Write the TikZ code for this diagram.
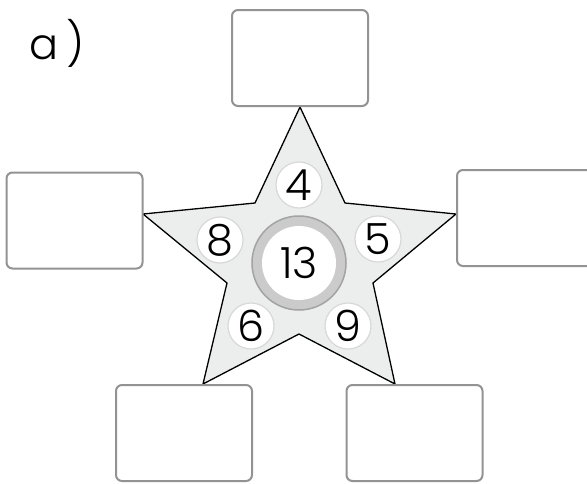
\documentclass[tikz,border=0pt]{standalone}
\usepackage{fontspec}
\setmainfont{Poppins Light}
\definecolor{starfill}{HTML}{ECEDED}
\definecolor{boxline}{HTML}{939393}
\definecolor{ringfill}{HTML}{CBCBCB}
\definecolor{ringline}{HTML}{A3A3A3}
\definecolor{dotline}{HTML}{D8D8D8}
\tikzset{
  answerbox/.style={draw=boxline, line width=2pt, rounded corners=6pt,
    minimum width=136pt, minimum height=96pt, fill=white, inner sep=0pt},
  numdot/.style={circle, draw=dotline, line width=1.2pt, fill=white,
    minimum size=46pt, inner sep=0pt, font=\fontsize{43}{43}\selectfont},
}
\begin{document}
\begin{tikzpicture}[x=1pt, y=-1pt]
  \useasboundingbox (0,0) rectangle (587,483);
  % Star points
  \coordinate (tipT) at (300,107);
  \coordinate (inTR) at (345,203);
  \coordinate (tipR) at (456,214);
  \coordinate (inR) at (373,283);
  \coordinate (tipBR) at (395,384);
  \coordinate (inB) at (299,334);
  \coordinate (tipBL) at (203,384);
  \coordinate (inL) at (227,283);
  \coordinate (tipL) at (143,214);
  \coordinate (inTL) at (255,203);
  \filldraw[fill=starfill, draw=black, line width=1.3pt]
    (tipT) -- (inTR) -- (tipR) -- (inR) -- (tipBR) -- (inB)
    -- (tipBL) -- (inL) -- (tipL) -- (inTL) -- cycle;
  % Centre ring with the sum
  \node[circle, fill=ringfill, draw=ringline, line width=1.5pt,
    minimum size=94pt] (ring) at (299,263) {};
  \node[circle, fill=white, minimum size=74pt, inner sep=0pt,
    font=\fontsize{43}{43}\selectfont] (sum) at (ring) {13};
  % Small numbers
  \foreach \px/\py/\n in {299/185/4, 220/240/8, 378/239/5, 251/326/6, 348/326/9}
    \node[numdot] (num\n) at (\px,\py) {\n};
  % Answer boxes
  \node[answerbox] (boxT) at (300,58) {};
  \node[answerbox] (boxL) at (74.5,220.5) {};
  \node[answerbox] (boxR) at (525,218) {};
  \node[answerbox] (boxBL) at (184,433) {};
  \node[answerbox] (boxBR) at (414.5,433) {};
  % Label
  \node[font=\fontsize{43}{43}\selectfont] (lbl) at (57,43) {a\,)};
\end{tikzpicture}
\end{document}
